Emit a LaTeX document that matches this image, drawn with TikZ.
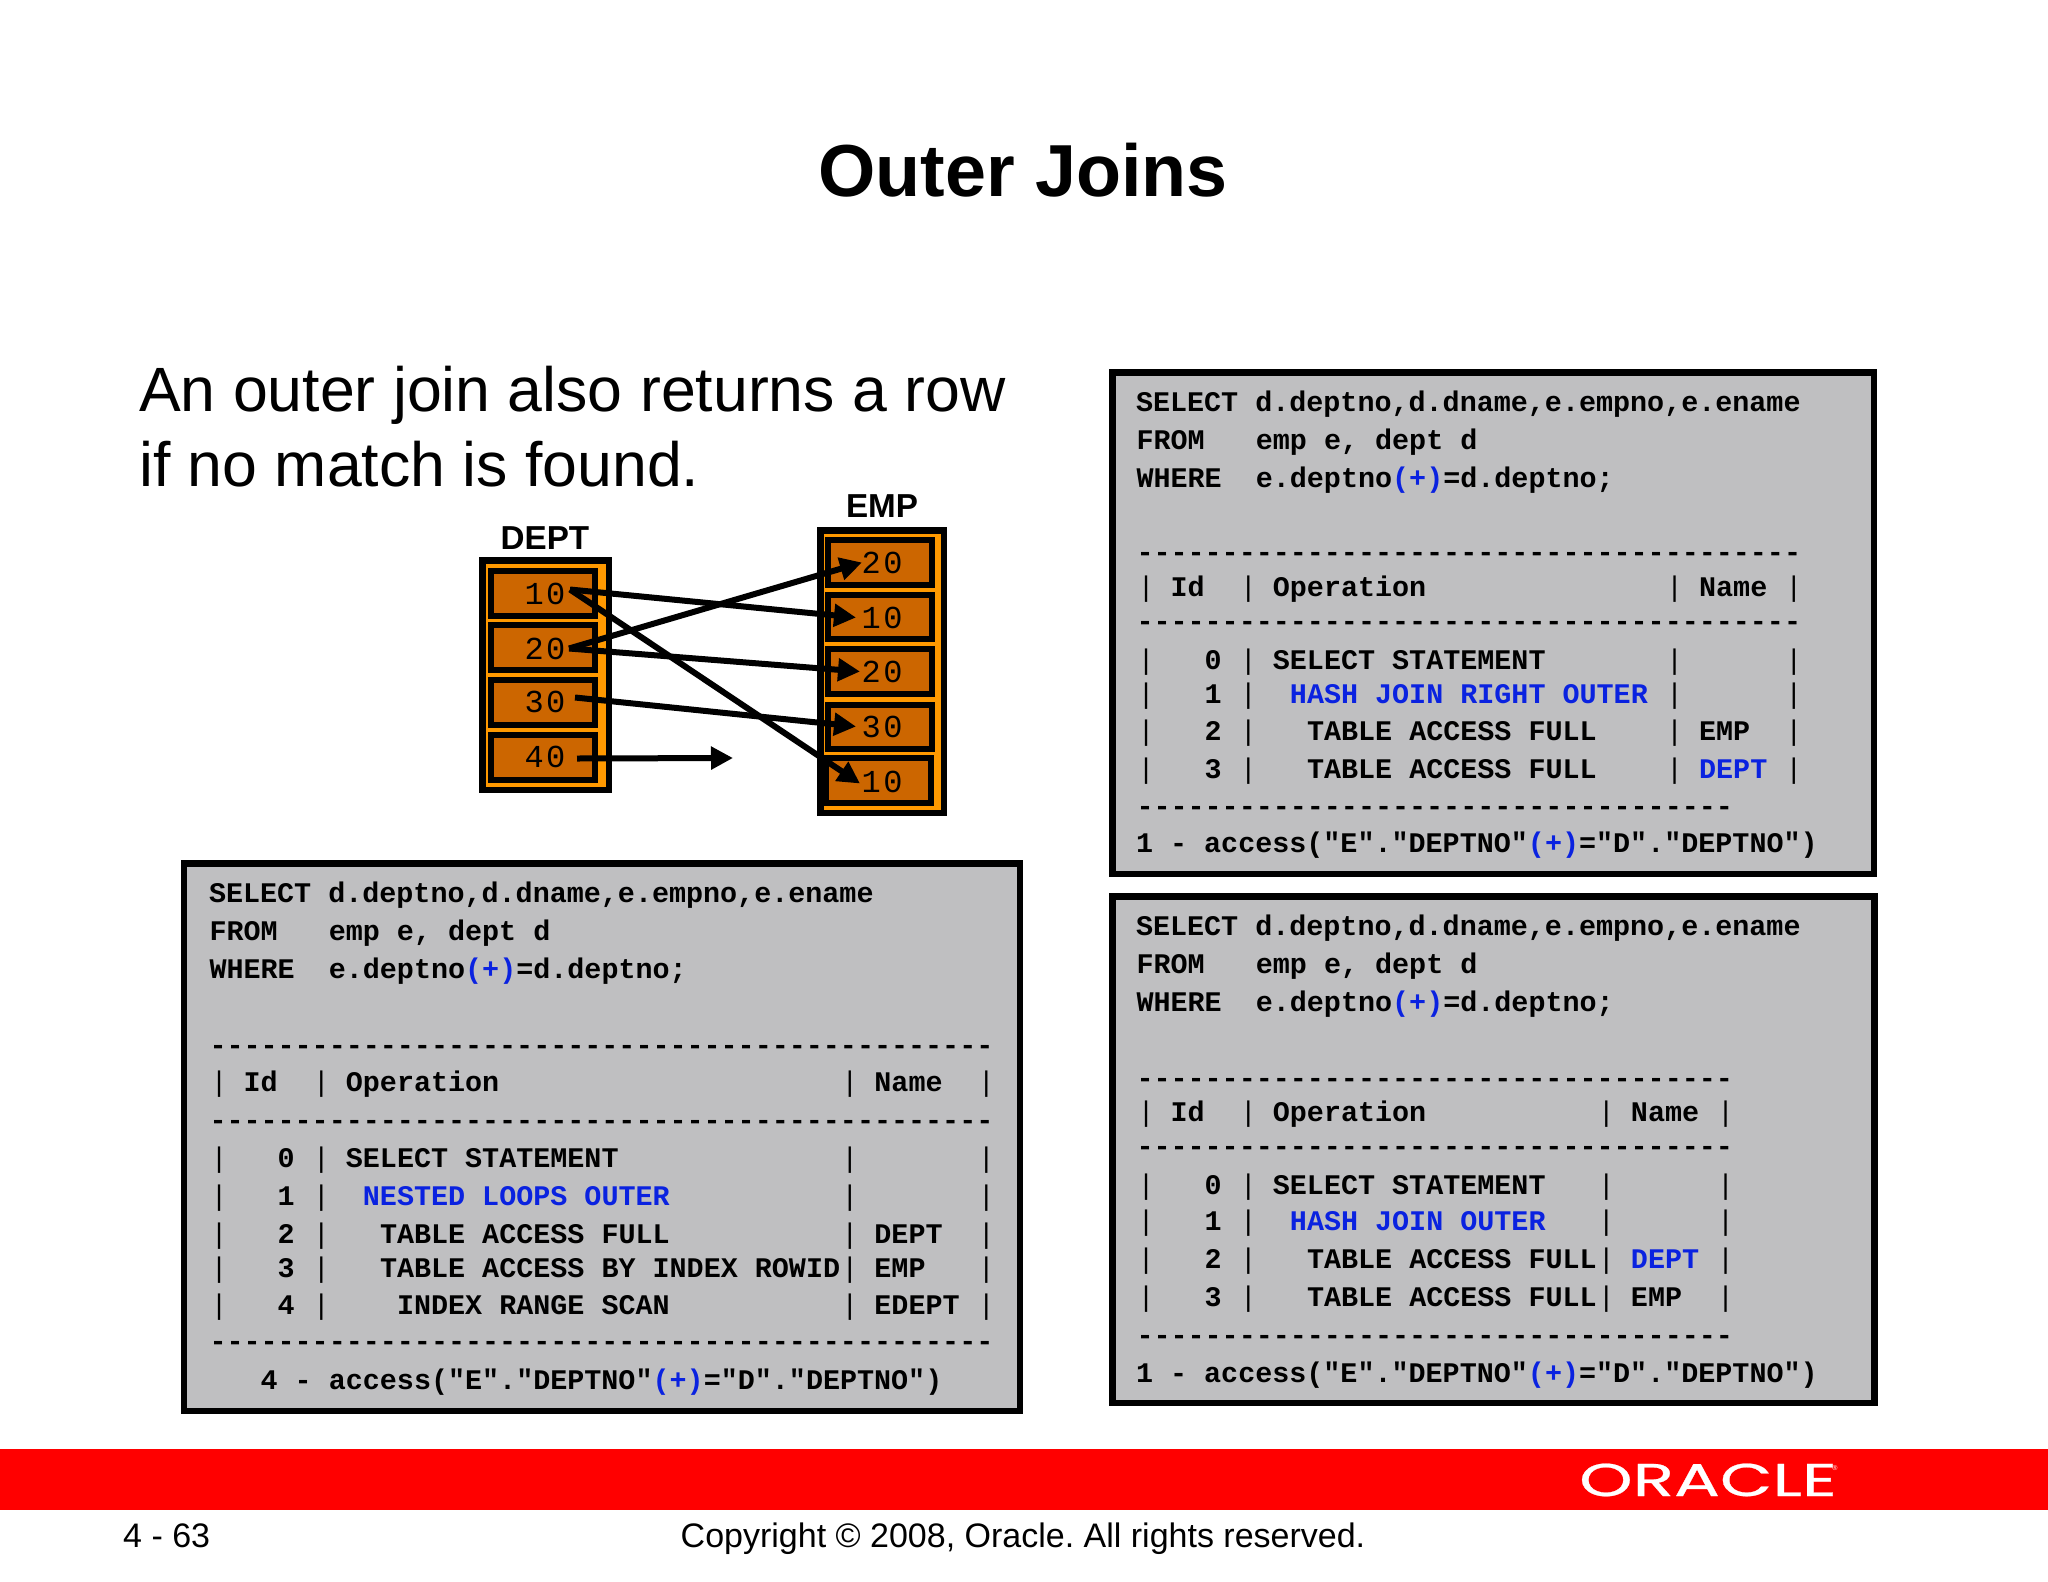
\documentclass[tikz,border=0pt]{standalone}
\usepackage{fontspec}
\setmainfont{Liberation Sans}
\setmonofont{Liberation Mono}
\newfontfamily\logofont[FakeBold=0.5]{Poppins}
\usetikzlibrary{arrows.meta}
\definecolor{panelgray}{HTML}{BFBFC1}
\definecolor{codeblue}{HTML}{0A22E0}
\definecolor{tblorange}{HTML}{FF9900}
\definecolor{roworange}{HTML}{CC6600}
\newdimen\cw \cw=17.05pt
\newcommand\col[2]{\rlap{\kern#1\cw #2}}
\newcommand\B{{\kern1pt\mdseries|}}
\newcommand\bl[1]{\textcolor{codeblue}{#1}}
\newcommand\dsh[1]{\rlap{\foreach \i in {1,...,#1}{-}}}
\newcommand\dg[2]{#1\kern2.5pt #2}
\tikzset{
  panel/.style={draw=black,line width=6.5pt,fill=panelgray},
  codeline/.style={anchor=base west,inner sep=0pt,outer sep=0pt,font=\fontsize{28.4pt}{30pt}\ttfamily\bfseries\frenchspacing},
  tbl/.style={draw=black,line width=6.5pt,fill=tblorange},
  rowbox/.style={draw=black,line width=6pt,fill=roworange},
  digit/.style={anchor=base,inner sep=0pt,outer sep=0pt,minimum width=44pt,text height=21pt,text depth=0pt,font=\fontsize{32pt}{34pt}\ttfamily},
  tblname/.style={anchor=base,inner sep=0pt,font=\fontsize{33.2pt}{34pt}\selectfont\bfseries},
  link/.style={line width=6pt,-{Triangle[length=22pt,width=22pt]}},
  foot/.style={inner sep=0pt,font=\fontsize{34pt}{38pt}\selectfont\frenchspacing}
}
\begin{document}
\begin{tikzpicture}[x=1pt,y=-1pt]
\useasboundingbox (0,0) rectangle (2048,1582);
\fill[white] (0,0) rectangle (2048,1582);
% title and lead text
\node[anchor=base,inner sep=0pt,font=\fontsize{73.7pt}{76pt}\selectfont\bfseries] (title) at (1023,196) {Outer Joins};
\node[anchor=base west,inner sep=0pt,font=\fontsize{62.6pt}{66pt}\selectfont] (lead1) at (139,411) {An outer join also returns a row};
\node[anchor=base west,inner sep=0pt,font=\fontsize{62.6pt}{66pt}\selectfont] (lead2) at (139,486) {if no match is found.};
% DEPT
\node[tblname] (deptname) at (545,549) {DEPT};
\path[tbl] (482.25,560.25) rectangle (608.75,789.75);
\path[rowbox] (491,571) rectangle (595,616);
\path[rowbox] (491,625) rectangle (595,670);
\path[rowbox] (491,680) rectangle (595,725);
\path[rowbox] (491,735) rectangle (595,780);
\node[digit] (d1) at (545,604) {\dg 10};
\node[digit] (d2) at (545,659) {\dg 20};
\node[digit] (d3) at (545,712) {\dg 30};
\node[digit] (d4) at (545,767) {\dg 40};
% EMP
\node[tblname] (empname) at (882,517) {EMP};
\path[tbl] (820.25,530.25) rectangle (943.75,812.75);
\path[rowbox] (828,540) rectangle (932,585);
\path[rowbox] (828,595) rectangle (932,639);
\path[rowbox] (828,649) rectangle (932,694);
\path[rowbox] (828,705) rectangle (932,749);
\path[rowbox] (826,758) rectangle (931,803);
\node[digit] (e1) at (882,573) {\dg 20};
\node[digit] (e2) at (882,628) {\dg 10};
\node[digit] (e3) at (882,682) {\dg 20};
\node[digit] (e4) at (882,737) {\dg 30};
\node[digit] (e5) at (882,792) {\dg 10};
\coordinate (free40) at (733,758);
% connectors
\draw[link] ([yshift=4pt,xshift=3pt]d1.east) -- ([xshift=-4pt]e2.west);
\draw[link] ([yshift=4pt,xshift=3pt]d1.east) -- ([yshift=-2pt]e5.west);
\draw[link] ([xshift=2pt]d2.east) -- ([xshift=2pt]e1.west);
\draw[link] ([xshift=2pt]d2.east) -- (e3.west);
\draw[link] ([xshift=8pt,yshift=4pt]d3.east) -- ([xshift=-4pt]e4.west);
\draw[link] ([xshift=10pt,yshift=-2pt]d4.east) -- (free40);
% left panel
\path[panel] (184,863.5) rectangle (1020,1411);
\node[codeline] (l1) at (209,902) {SELECT d.deptno,d.dname,e.empno,e.ename};
\node[codeline] (l2) at (209,940) {\col{0}{FROM}\col{7}{emp e, dept d}};
\node[codeline] (l3) at (209,978) {\col{0}{WHERE}\col{7}{e.deptno\bl{(+)}=d.deptno;}};
\node[codeline] (l4) at (209,1054) {\dsh{46}};
\node[codeline] (l5) at (209,1091) {\col{0}{\B}\col{2}{Id}\col{6}{\B}\col{8}{Operation}\col{37}{\B}\col{39}{Name}\col{45}{\B}};
\node[codeline] (l6) at (209,1129) {\dsh{46}};
\node[codeline] (l7) at (209,1167) {\col{0}{\B}\col{4}{0}\col{6}{\B}\col{8}{SELECT STATEMENT}\col{37}{\B}\col{45}{\B}};
\node[codeline] (l8) at (209,1205) {\col{0}{\B}\col{4}{1}\col{6}{\B}\col{9}{\bl{NESTED LOOPS OUTER}}\col{37}{\B}\col{45}{\B}};
\node[codeline] (l9) at (209,1243) {\col{0}{\B}\col{4}{2}\col{6}{\B}\col{10}{TABLE ACCESS FULL}\col{37}{\B}\col{39}{DEPT}\col{45}{\B}};
\node[codeline] (l10) at (209,1277) {\col{0}{\B}\col{4}{3}\col{6}{\B}\col{10}{TABLE ACCESS BY INDEX ROWID}\col{37}{\B}\col{39}{EMP}\col{45}{\B}};
\node[codeline] (l11) at (209,1314) {\col{0}{\B}\col{4}{4}\col{6}{\B}\col{11}{INDEX RANGE SCAN}\col{37}{\B}\col{39}{EDEPT}\col{45}{\B}};
\node[codeline] (l12) at (209,1350) {\dsh{46}};
\node[codeline] (l13) at (209,1389) {\col{3}{4 - access("E"."DEPTNO"\bl{(+)}="D"."DEPTNO")}};
% top right panel
\path[panel] (1112.5,372.5) rectangle (1874,874);
\node[codeline] (t1) at (1136,411) {SELECT d.deptno,d.dname,e.empno,e.ename};
\node[codeline] (t2) at (1136,449) {\col{0}{FROM}\col{7}{emp e, dept d}};
\node[codeline] (t3) at (1136,487) {\col{0}{WHERE}\col{7}{e.deptno\bl{(+)}=d.deptno;}};
\node[codeline] (t4) at (1136,561) {\dsh{39}};
\node[codeline] (t5) at (1136,596) {\col{0}{\B}\col{2}{Id}\col{6}{\B}\col{8}{Operation}\col{31}{\B}\col{33}{Name}\col{38}{\B}};
\node[codeline] (t6) at (1136,630) {\dsh{39}};
\node[codeline] (t7) at (1136,669) {\col{0}{\B}\col{4}{0}\col{6}{\B}\col{8}{SELECT STATEMENT}\col{31}{\B}\col{38}{\B}};
\node[codeline] (t8) at (1136,703) {\col{0}{\B}\col{4}{1}\col{6}{\B}\col{9}{\bl{HASH JOIN RIGHT OUTER}}\col{31}{\B}\col{38}{\B}};
\node[codeline] (t9) at (1136,740) {\col{0}{\B}\col{4}{2}\col{6}{\B}\col{10}{TABLE ACCESS FULL}\col{31}{\B}\col{33}{EMP}\col{38}{\B}};
\node[codeline] (t10) at (1136,778) {\col{0}{\B}\col{4}{3}\col{6}{\B}\col{10}{TABLE ACCESS FULL}\col{31}{\B}\col{33}{\bl{DEPT}}\col{38}{\B}};
\node[codeline] (t11) at (1136,815) {\dsh{35}};
\node[codeline] (t12) at (1136,852) {1 - access("E"."DEPTNO"\bl{(+)}="D"."DEPTNO")};
% bottom right panel
\path[panel] (1112.5,896.5) rectangle (1874.5,1403);
\node[codeline] (b1) at (1136,935) {SELECT d.deptno,d.dname,e.empno,e.ename};
\node[codeline] (b2) at (1136,973) {\col{0}{FROM}\col{7}{emp e, dept d}};
\node[codeline] (b3) at (1136,1011) {\col{0}{WHERE}\col{7}{e.deptno\bl{(+)}=d.deptno;}};
\node[codeline] (b4) at (1136,1087) {\dsh{35}};
\node[codeline] (b5) at (1136,1121) {\col{0}{\B}\col{2}{Id}\col{6}{\B}\col{8}{Operation}\col{27}{\B}\col{29}{Name}\col{34}{\B}};
\node[codeline] (b6) at (1136,1155) {\dsh{35}};
\node[codeline] (b7) at (1136,1194) {\col{0}{\B}\col{4}{0}\col{6}{\B}\col{8}{SELECT STATEMENT}\col{27}{\B}\col{34}{\B}};
\node[codeline] (b8) at (1136,1230) {\col{0}{\B}\col{4}{1}\col{6}{\B}\col{9}{\bl{HASH JOIN OUTER}}\col{27}{\B}\col{34}{\B}};
\node[codeline] (b9) at (1136,1268) {\col{0}{\B}\col{4}{2}\col{6}{\B}\col{10}{TABLE ACCESS FULL}\col{27}{\B}\col{29}{\bl{DEPT}}\col{34}{\B}};
\node[codeline] (b10) at (1136,1306) {\col{0}{\B}\col{4}{3}\col{6}{\B}\col{10}{TABLE ACCESS FULL}\col{27}{\B}\col{29}{EMP}\col{34}{\B}};
\node[codeline] (b11) at (1136,1344) {\dsh{35}};
\node[codeline] (b12) at (1136,1382) {1 - access("E"."DEPTNO"\bl{(+)}="D"."DEPTNO")};
% footer
\fill[red] (0,1449) rectangle (2048,1510);
\node[anchor=base,inner sep=0pt,text=white,font=\logofont\fontsize{46pt}{48pt}\selectfont] (logo) at (1708,1496) {\scalebox{1.48}[1]{ORACLE}};
\node[anchor=center,inner sep=0pt,text=white,font=\fontsize{7pt}{8pt}\selectfont] (logoreg) at (1835,1468) {®};
\node[anchor=base west,foot] (page) at (123,1547) {4 - 63};
\node[anchor=base,foot] (copy) at (1023,1547) {Copyright © 2008, Oracle. All rights reserved.};
\end{tikzpicture}
\end{document}
